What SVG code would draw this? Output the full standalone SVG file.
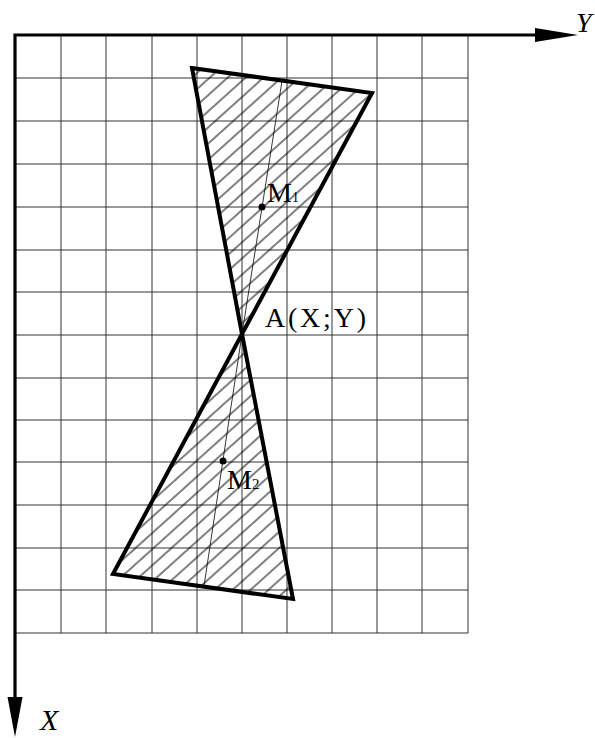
<svg xmlns="http://www.w3.org/2000/svg" width="595" height="738" viewBox="0 0 595 738">
<style>
.grid{stroke:#333;stroke-width:1;fill:none}
.axis{stroke:#000;stroke-width:3.2;fill:none}
.tri{stroke:#000;stroke-width:4;fill:url(#hatch);stroke-linejoin:miter}
.thin{stroke:#000;stroke-width:0.8;fill:none}
.lbl{font-family:"Liberation Serif","Times New Roman",serif;fill:#000}
</style>
<defs>
<pattern id="hatch" patternUnits="userSpaceOnUse" width="12" height="12" patternTransform="rotate(-42)">
<line x1="0" y1="6" x2="12" y2="6" stroke="#000" stroke-width="1"/>
</pattern>
</defs>
<rect width="595" height="738" fill="#fff"/>
<g id="grid" class="grid">
<path d="M61,35V633M106,35V633M152,35V633M197,35V633M242,35V633M287,35V633M332,35V633M377,35V633M422,35V633M468,35V633"/>
<path d="M15,78H468M15,121H468M15,164H468M15,207H468M15,250H468M15,292H468M15,335H468M15,378H468M15,420H468M15,462H468M15,505H468M15,548H468M15,590H468M15,633H468"/>
</g>
<g id="axes">
<path class="axis" d="M540,35H15V700"/>
<polygon points="578,35 535,28 535,42" fill="#000"/>
<polygon points="15,737 7.5,697 22.5,697" fill="#000"/>
<text class="lbl" x="576" y="32" font-size="28" font-style="italic">Y</text>
<text class="lbl" x="40" y="730" font-size="30" font-style="italic">X</text>
</g>
<g id="triangle1">
<polygon class="tri" points="192,68 372,93 242,334"/>
<line class="thin" x1="282" y1="81" x2="242" y2="334"/>
<circle cx="262" cy="207" r="3.5" fill="#000"/>
<text class="lbl" x="267" y="202" font-size="28">M<tspan font-size="14">1</tspan></text>
</g>
<g id="triangle2">
<polygon class="tri" points="242,334 113,574 293,599"/>
<line class="thin" x1="242" y1="334" x2="204" y2="586"/>
<circle cx="223" cy="461" r="3.5" fill="#000"/>
<text class="lbl" x="227" y="489" font-size="28">M<tspan font-size="15">2</tspan></text>
</g>
<g id="pointA">
<text class="lbl" x="265" y="327" font-size="28" textLength="101" lengthAdjust="spacing">A(X;Y)</text>
</g>
</svg>
